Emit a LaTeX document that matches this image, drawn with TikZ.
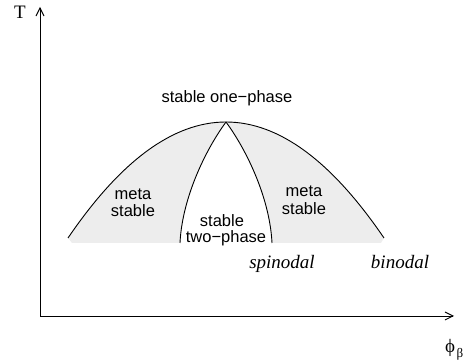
\documentclass[tikz,border=0pt]{standalone}
\usepackage{fontspec}
\setmainfont{Liberation Serif}
\newfontfamily\sansf{Liberation Sans}
\usetikzlibrary{arrows.meta}
\tikzset{
  lab/.style={inner sep=0pt, anchor=base, font=\sansf\fontsize{16.5}{18}\selectfont},
  ital/.style={inner sep=0pt, anchor=base, font=\itshape\fontsize{19}{21}\selectfont},
  curve/.style={line width=0.9pt},
  axis/.style={line width=0.9pt, -{Straight Barb[length=8pt,width=8pt,line width=0.9pt]}},
  region/.style={fill=gray!14, draw=none}
}
\begin{document}
\begin{tikzpicture}[x=1pt,y=-1pt]
\useasboundingbox (0,0) rectangle (467,363);
% shaded regions
\fill[region] (68,238) .. controls (120.67,160.67) and (173.33,122) .. (226,122)
  .. controls (204,152) and (182,200) .. (180,243) -- (72,243) -- cycle;
\fill[region] (226,122) .. controls (278.67,122) and (331.33,160.67) .. (384,238)
  -- (381,243) -- (272,243) .. controls (270,200) and (248,152) .. (226,122) -- cycle;
% coordinates
\coordinate (O) at (40,316);
\coordinate (Ytip) at (40,7);
\coordinate (Xtip) at (454,316);
\coordinate (BL) at (68,238);
\coordinate (BR) at (384,238);
\coordinate (C) at (226,122);
\coordinate (SL) at (180,243);
\coordinate (SR) at (272,243);
% axes
\draw[axis] (O) -- (Ytip);
\draw[axis] (O) -- (Xtip);
% binodal
\draw[curve] (BL) .. controls (173.33,83.33) and (278.67,83.33) .. (BR);
% spinodals
\draw[curve] (C) .. controls (204,152) and (182,200) .. (SL);
\draw[curve] (C) .. controls (248,152) and (270,200) .. (SR);
% labels
\node[inner sep=0pt, anchor=base, font=\fontsize{19}{21}\selectfont] (T) at (20,18.5) {T};
\node[inner sep=0pt, anchor=base, font=\fontsize{19}{21}\selectfont] (phi) at (450,353) {ϕ};
\node[inner sep=0pt, anchor=base, font=\fontsize{13}{15}\selectfont] (beta) at (460,358) {β};
\node[lab] (one) at (227,103) {stable one−phase};
\node[lab] (m1a) at (133,199.5) {meta};
\node[lab] (m1b) at (133,217) {stable};
\node[lab] (m2a) at (304,197) {meta};
\node[lab] (m2b) at (304,214.5) {stable};
\node[lab] (s2a) at (222,227) {stable};
\node[lab] (s2b) at (226,243) {two−phase};
\node[ital] (spin) at (282,268.5) {spinodal};
\node[ital] (bin) at (400,268.5) {binodal};
\end{tikzpicture}
\end{document}
